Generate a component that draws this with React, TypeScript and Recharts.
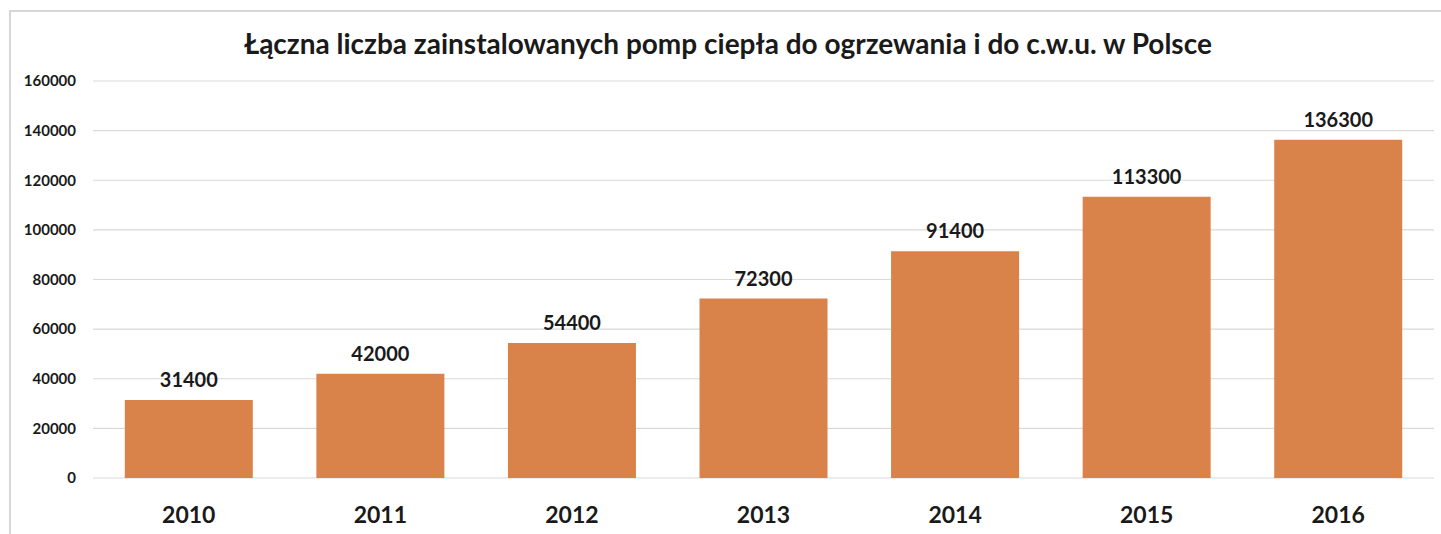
import React from "react";
import { BarChart, Bar, XAxis, YAxis, CartesianGrid, LabelList } from "recharts";

const years = ["2010", "2011", "2012", "2013", "2014", "2015", "2016"];
const pumps = [31400, 42000, 54400, 72300, 91400, 113300, 136300];
const yTicks = [0, 20000, 40000, 60000, 80000, 100000, 120000, 140000, 160000];
const title = "Łączna liczba zainstalowanych pomp ciepła do ogrzewania i do c.w.u. w Polsce";

const data = years.map((y, i) => ({ year: y, value: pumps[i] }));

const FONT = "Lato, 'Open Sans', sans-serif";

export default function App() {
  return (
    <div style={{ position: "absolute", left: 0, top: 0, width: 1441, height: 534, background: "#fff", overflow: "hidden" }}>
      <div
        style={{
          position: "absolute",
          left: 9,
          top: 10,
          width: 1440,
          height: 530,
          border: "2px solid #d6d6d6",
          boxSizing: "border-box",
        }}
      />
      <div
        style={{
          position: "absolute",
          left: 0,
          width: 1456,
          top: 26,
          textAlign: "center",
          fontFamily: FONT,
          fontWeight: 700,
          fontSize: 28,
          lineHeight: "34px",
          color: "#1a1a1a",
          whiteSpace: "nowrap",
        }}
      >
        {title}
      </div>
      <div style={{ position: "absolute", left: 0, top: 0 }}>
        <BarChart
          width={1441}
          height={534}
          data={data}
          margin={{ top: 81, right: 7, bottom: 26, left: 0 }}
          barCategoryGap="16.6%"
        >
          <CartesianGrid vertical={false} stroke="#d9d9d9" strokeWidth={1.2} />
          <XAxis
            dataKey="year"
            axisLine={false}
            tickLine={false}
            tickMargin={23}
            tick={{ fill: "#1a1a1a", fontFamily: FONT, fontWeight: 700, fontSize: 23 }}
          />
          <YAxis
            width={93}
            domain={[0, 160000]}
            ticks={yTicks}
            axisLine={false}
            tickLine={false}
            tickMargin={11}
            interval={0}
            tick={{ fill: "#1a1a1a", fontFamily: FONT, fontWeight: 700, fontSize: 15 }}
          />
          <Bar dataKey="value" fill="#D9824A" isAnimationActive={false}>
            <LabelList
              dataKey="value"
              position="top"
              offset={13}
              style={{ fill: "#1a1a1a", fontFamily: FONT, fontWeight: 700, fontSize: 20 }}
            />
          </Bar>
        </BarChart>
      </div>
    </div>
  );
}
